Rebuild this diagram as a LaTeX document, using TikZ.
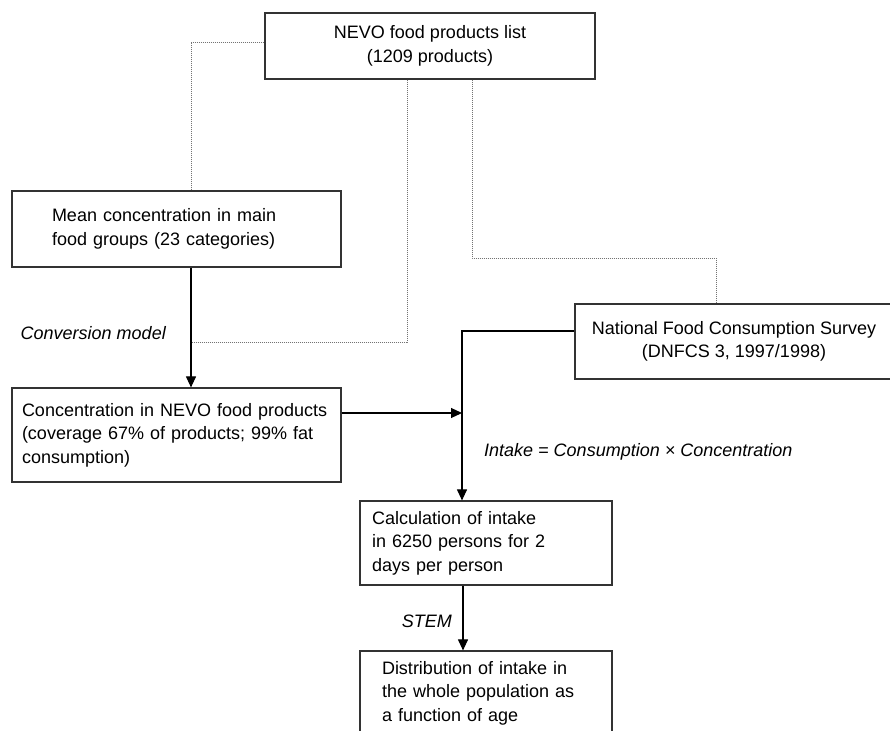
\documentclass[tikz,border=0pt]{standalone}
\usepackage{fontspec}
\setmainfont{Liberation Sans}
\usetikzlibrary{arrows.meta}

\tikzset{
  box/.style={draw=black!80, line width=1.2pt, rectangle, inner ysep=0pt,
    font=\fontsize{18}{23.5}\selectfont},
  lbl/.style={font=\fontsize{18}{23.5}\selectfont\itshape, inner sep=0pt},
  arr/.style={draw, line width=1.1pt, -{Triangle[width=10pt,length=11pt]}},
  dotline/.style={draw=black!55, line width=0.8pt, dash pattern=on 1pt off 1pt}
}

\begin{document}
\begin{tikzpicture}[x=1pt, y=-1pt]
\useasboundingbox (0,0) rectangle (890,730);

\node[box, align=center, minimum width=330pt, minimum height=66pt] (nevo) at (430,46) {NEVO food products list\\(1209 products)};
\node[box, align=left, text width=249pt, inner xsep=40pt, minimum height=76pt] (mean) at (176.5,229) {Mean concentration in main\\food groups (23 categories)};
\node[box, align=left, text width=309pt, inner xsep=10pt, minimum height=94pt] (conc) at (176.5,435) {\mbox{Concentration in NEVO food products}\\(coverage 67\% of products; 99\% fat\\consumption)};
\node[box, align=center, minimum width=318pt, minimum height=75pt] (nfcs) at (734,341.5) {National Food Consumption Survey\\(DNFCS 3, 1997/1998)};
\node[box, align=left, text width=228pt, inner xsep=12pt, minimum height=84pt] (calc) at (486,543) {Calculation of intake\\in 6250 persons for 2\\days per person};
\node[box, align=left, text width=208pt, inner xsep=22pt, minimum height=84pt] (dist) at (486,693) {Distribution of intake in\\the whole population as\\a function of age};

\node[lbl, anchor=east] (convlbl) at (166,333) {Conversion model};
\node[lbl, anchor=west] (intakelbl) at (484,452) {Intake = Consumption × Concentration};
\node[lbl, anchor=east] (stemlbl) at (452,621) {STEM};

\coordinate (cm) at (191,342);
\coordinate (jn) at (462,413);

% dotted links from the NEVO list
\path[dotline] ([yshift=4pt]nevo.west) -| ([xshift=14.5pt]mean.north);
\path[dotline] ([xshift=-23pt]nevo.south) |- (cm);
\path[dotline] ([xshift=42pt]nevo.south) |- (716,258) -- ([xshift=-18pt]nfcs.north);

\path[arr] ([xshift=14.5pt]mean.south) -- ([xshift=14.5pt]conc.north);
\path[arr] ([yshift=22pt]conc.east) -- (jn);
\path[arr] ([yshift=10.5pt]nfcs.west) -| ([xshift=-24pt]calc.north);
\path[arr] ([xshift=-23pt]calc.south) -- ([xshift=-23pt]dist.north);

\end{tikzpicture}
\end{document}
